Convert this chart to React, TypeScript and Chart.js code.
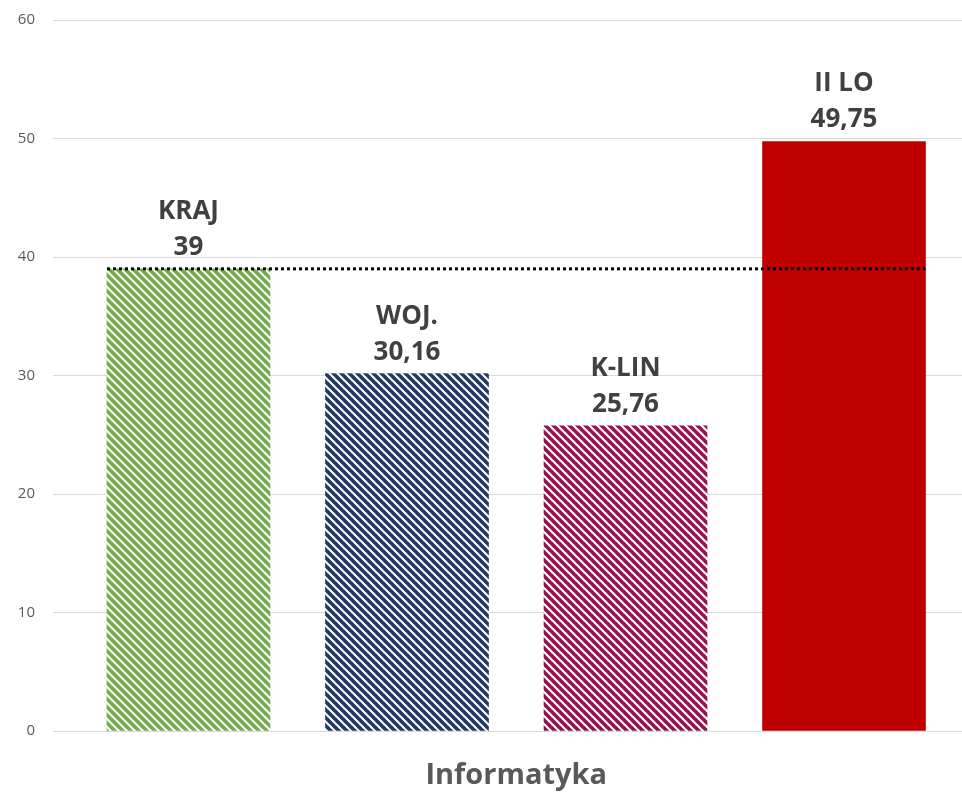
import React, { useEffect, useRef } from "react";
import { Chart, registerables } from "chart.js";

Chart.register(...registerables);

// ---- data ----
const categories = ["KRAJ", "WOJ.", "K-LIN", "II LO"];
const values = [39, 30.16, 25.76, 49.75];
const valueLabels = ["39", "30,16", "25,76", "49,75"];
const referenceValue = 39;
const yTickStep = 10;
const yMin = 0;
const yMax = 60;
const chartTitle = "Informatyka";
const barColors = ["#70AD47", "#1F3864", "#990F50", "#C00000"];
const barHatched = [true, true, true, false];

function makeHatch(color: string): CanvasPattern | string {
  const s = 8;
  const c = document.createElement("canvas");
  c.width = s;
  c.height = s;
  const g = c.getContext("2d");
  if (!g) return color;
  g.fillStyle = "#ffffff";
  g.fillRect(0, 0, s, s);
  g.strokeStyle = color;
  g.lineWidth = 3.6;
  g.lineCap = "square";
  for (let k = -1; k <= 1; k++) {
    g.beginPath();
    g.moveTo(k * s - 1, -1);
    g.lineTo(k * s + s + 1, s + 1);
    g.stroke();
  }
  const p = g.createPattern(c, "repeat");
  return p || color;
}

const labelPlugin = {
  id: "barLabels",
  afterDatasetsDraw(chart: any) {
    const ctx = chart.ctx as CanvasRenderingContext2D;
    const meta = chart.getDatasetMeta(1);
    ctx.save();
    ctx.fillStyle = "#404040";
    ctx.font = "bold 26px 'Open Sans'";
    ctx.textAlign = "center";
    ctx.textBaseline = "alphabetic";
    meta.data.forEach((el: any, i: number) => {
      ctx.fillText(valueLabels[i], el.x, el.y - 14);
      ctx.fillText(categories[i], el.x, el.y - 50);
    });
    // title centred under the bars
    const first = meta.data[0];
    const last = meta.data[meta.data.length - 1];
    ctx.fillStyle = "#595959";
    ctx.font = "bold 29px 'Open Sans'";
    ctx.textBaseline = "middle";
    ctx.fillText(chartTitle, (first.x + last.x) / 2, chart.chartArea.bottom + 45);
    ctx.restore();
  },
};

export default function App() {
  const ref = useRef<HTMLCanvasElement | null>(null);

  useEffect(() => {
    if (!ref.current) return;
    const patterns = barColors.map((c, i) => (barHatched[i] ? makeHatch(c) : c));
    const halfBar = 163 / 2 / 218.5;
    const chart = new Chart(ref.current, {
      type: "bar",
      data: {
        datasets: [
          {
            type: "line",
            data: [
              { x: -halfBar, y: referenceValue },
              { x: categories.length - 1 + halfBar, y: referenceValue },
            ],
            borderColor: "#000000",
            borderWidth: 3,
            borderDash: [3, 3],
            borderCapStyle: "butt",
            pointRadius: 0,
            order: 0,
          } as any,
          {
            type: "bar",
            data: categories.map((_, i) => ({ x: i, y: values[i] })),
            backgroundColor: patterns as any,
            borderWidth: 0,
            barThickness: 163,
            order: 1,
          } as any,
        ],
      },
      options: {
        animation: false,
        responsive: false,
        maintainAspectRatio: false,
        layout: { padding: { left: 0, right: 0, top: 20, bottom: 65 } },
        plugins: { legend: { display: false }, tooltip: { enabled: false } },
        scales: {
          x: { type: "linear", min: -0.62, max: 3.54, offset: false, display: false },
          y: {
            min: yMin,
            max: yMax,
            ticks: {
              stepSize: yTickStep,
              padding: 18,
              color: "#595959",
              font: { family: "Open Sans", size: 15 },
            },
            grid: { color: "#d9d9d9", drawTicks: false, lineWidth: 1 },
            border: { display: false },
            afterFit: (s: any) => {
              s.width = 53;
              s.paddingTop = 0;
              s.paddingBottom = 0;
            },
          },
        },
      },
      plugins: [labelPlugin],
    });
    return () => chart.destroy();
  }, []);

  return (
    <div style={{ position: "fixed", left: 0, top: 0, width: 962, height: 796, background: "#fff" }}>
      <canvas ref={ref} width={962} height={796} style={{ display: "block", width: 962, height: 796 }} />
    </div>
  );
}
